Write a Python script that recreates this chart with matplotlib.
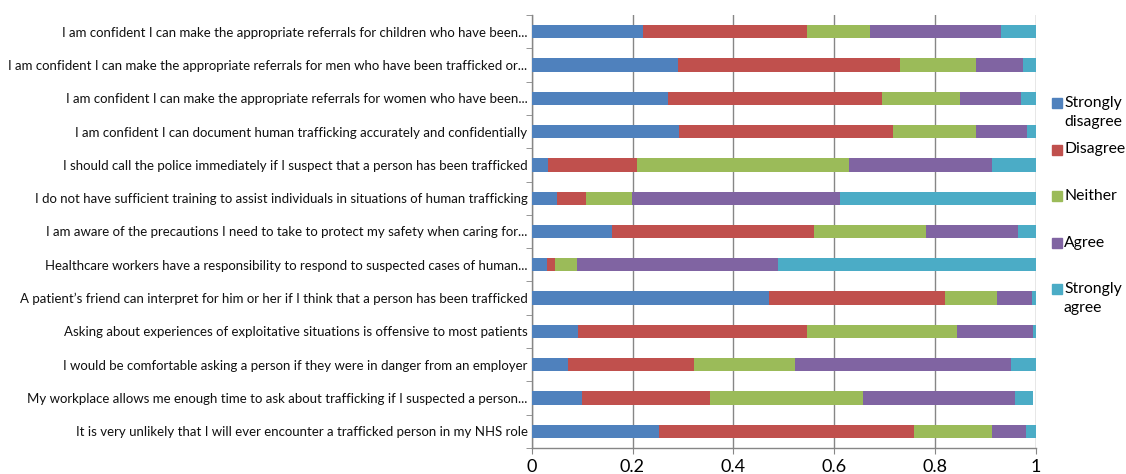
import numpy as np
import matplotlib.pyplot as plt
from matplotlib.patches import Rectangle

plt.rcParams['font.family'] = ['Lato', 'DejaVu Sans']

# statements, top to bottom as drawn
statements = [
    "I am confident I can make the appropriate referrals for children who have been...",
    "I am confident I can make the appropriate referrals for men who have been trafficked or...",
    "I am confident I can make the appropriate referrals for women who have been...",
    "I am confident I can document human trafficking accurately and confidentially",
    "I should call the police immediately if I suspect that a person has been trafficked",
    "I do not have sufficient training to assist individuals in situations of human trafficking",
    "I am aware of the precautions I need to take to protect my safety when caring for...",
    "Healthcare workers have a responsibility to respond to suspected cases of human...",
    "A patient\u2019s friend can interpret for him or her if I think that a person has been trafficked",
    "Asking about experiences of exploitative situations is offensive to most patients",
    "I would be comfortable asking a person if they were in danger from an employer",
    "My workplace allows me enough time to ask about trafficking if I suspected a person...",
    "It is very unlikely that I will ever encounter a trafficked person in my NHS role",
]

# proportions per response
strongly_disagree = [0.221, 0.290, 0.271, 0.293, 0.032, 0.051, 0.160, 0.030, 0.470, 0.091, 0.073, 0.100, 0.253]
disagree          = [0.326, 0.441, 0.425, 0.424, 0.176, 0.057, 0.401, 0.016, 0.351, 0.455, 0.249, 0.254, 0.506]
neither           = [0.124, 0.151, 0.154, 0.165, 0.422, 0.091, 0.221, 0.044, 0.102, 0.297, 0.200, 0.303, 0.155]
agree             = [0.260, 0.093, 0.120, 0.100, 0.284, 0.413, 0.183, 0.399, 0.070, 0.152, 0.429, 0.301, 0.067]
strongly_agree    = [0.069, 0.025, 0.030, 0.018, 0.086, 0.388, 0.035, 0.511, 0.007, 0.005, 0.049, 0.036, 0.019]

series = [strongly_disagree, disagree, neither, agree, strongly_agree]
legend_labels = ["Strongly\ndisagree", "Disagree", "Neither", "Agree", "Strongly\nagree"]
colors = ['#4F81BD', '#C0504D', '#9BBB59', '#8064A2', '#4BACC6']

W, H = 1126, 474
fig = plt.figure(figsize=(W / 100, H / 100), dpi=100)
ax = fig.add_axes([531.7 / W, 1 - 448 / H, 504 / W, 433 / H])

y = np.arange(len(statements))
left = np.zeros(len(statements))
for vals, c, lab in zip(series, colors, legend_labels):
    vals = np.array(vals)
    ax.barh(y, vals, left=left, height=0.4, color=c, label=lab, zorder=3)
    left += vals

ax.set_ylim(len(statements) - 0.5, -0.5)
ax.set_xlim(0, 1)
ax.set_xticks([0, 0.2, 0.4, 0.6, 0.8, 1])
ax.set_xticklabels(['0', '0.2', '0.4', '0.6', '0.8', '1'])
ax.set_yticks(y)
ax.set_yticklabels(statements, fontsize=9.5, color='#111111')
ax.set_yticks(np.arange(-0.5, len(statements)), minor=True)
ax.tick_params(axis='y', which='major', length=0, pad=3)
ax.tick_params(axis='y', which='minor', length=4, color='#868686', direction='out')
ax.tick_params(axis='x', length=4, color='#868686', labelsize=13, pad=4)

ax.grid(axis='x', color='#868686', linewidth=1, zorder=0)
for s in ['top', 'right']:
    ax.spines[s].set_visible(False)
for s in ['left', 'bottom']:
    ax.spines[s].set_color('#868686')
    ax.spines[s].set_linewidth(1)

# legend drawn by hand, Excel style
for i, (lab, c) in enumerate(zip(legend_labels, colors)):
    yc = 103 + i * 46.5
    fig.patches.append(Rectangle((1052 / W, 1 - (yc + 5) / H), 10 / W, 10 / H,
                                 color=c, transform=fig.transFigure, figure=fig))
    for j, line in enumerate(lab.split('\n')):
        fig.text(1064 / W, 1 - (yc + j * 19) / H, line, fontsize=11.3, va='center', ha='left')

fig.savefig('out.png', dpi=100)
